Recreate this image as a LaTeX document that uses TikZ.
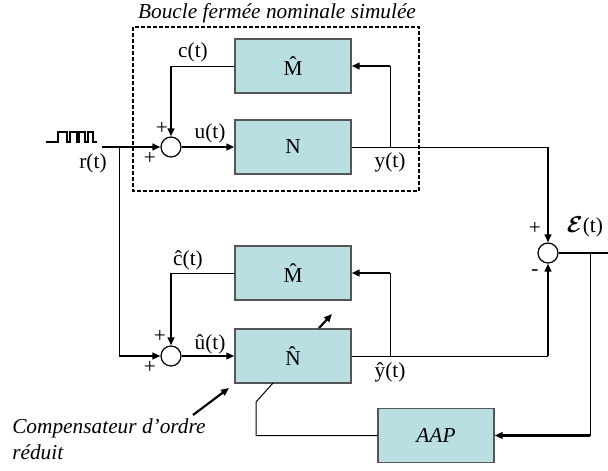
\documentclass[tikz,border=0pt]{standalone}
\usepackage{amsmath}
\usepackage{fontspec}
\setmainfont{Liberation Serif}
\usetikzlibrary{arrows.meta}
\definecolor{boxfill}{HTML}{B9DFE2}
\definecolor{boxline}{HTML}{555555}
\begin{document}
\begin{tikzpicture}[x=0.75pt,y=-0.75pt,
  blk/.style={draw=boxline,fill=boxfill,line width=1pt,minimum width=87pt,minimum height=40.5pt,inner sep=0pt,font=\fontsize{16}{18}\selectfont},
  sumnode/.style={circle,draw,line width=0.9pt,minimum size=15pt,inner sep=0pt},
  wire/.style={line width=0.75pt},
  bold/.style={line width=1.6pt},
  arr/.style={bold,-{Triangle[length=6pt,width=5pt]}},
  lbl/.style={font=\fontsize{16}{18}\selectfont,inner sep=0pt},
  itl/.style={font=\fontsize{16}{20}\selectfont\itshape,inner sep=0pt},
]
\useasboundingbox (0,0) rectangle (608,471);

% dashed frame and title
\draw[line width=1.2pt,dash pattern=on 3pt off 1.5pt] (133,27) rectangle (419,191);
\node[itl] (title) at (277,13) {Boucle fermée nominale simulée};

% blocks
\node[blk] (M1) at (293,66) {\^{M}};
\node[blk] (N1) at (293,147) {N};
\node[blk] (M2) at (293,273) {\^{M}};
\node[blk] (N2) at (293,356) {\^{N}};
\node[blk,font=\fontsize{16}{18}\selectfont\itshape] (AAP) at (436,435.5) {AAP};

% summing junctions
\node[sumnode] (s1) at (171,147) {};
\node[sumnode] (s2) at (171,356) {};
\node[sumnode] (s3) at (548,253) {};

% square wave input
\draw[line width=1.8pt] (46,142) -- (58,142) -- (58,132) -- (67,132) -- (67,142) -- (70,142) -- (70,132) -- (77,132) -- (77,142) -- (79,142) -- (79,132) -- (85,132) -- (85,142) -- (88,142) -- (88,132) -- (93,132) -- (93,142) -- (97,142);

% coordinates
\coordinate (rin) at (102,147);
\coordinate (rb) at (119,147);
\coordinate (yb1) at (390,147);
\coordinate (yc1) at (548,147);
\coordinate (yb2) at (390,356);
\coordinate (yc2) at (548,356);
\coordinate (eo) at (608,253);
\coordinate (eb) at (590,253);
\coordinate (sw1) at (256,402);
\coordinate (sw2) at (273,383);
\coordinate (da1) at (319,328);
\coordinate (da2) at (332,314);
\coordinate (ca1) at (193,415);
\coordinate (ca2) at (229,388);

% upper loop
\draw[arr] (rin) -- (s1.west);
\draw[wire] (M1.west) -- (M1.west -| s1);
\draw[arr] (M1.west -| s1) -- (s1.north);
\draw[arr] (s1.east) -- (N1.west);
\draw[wire] (N1.east) -- (yc1);
\draw[wire] (yb1) -- (yb1 |- M1.east);
\draw[arr] (yb1 |- M1.east) -- (M1.east);
\draw[arr] (yc1) -- (s3.north);

% lower loop
\draw[wire] (rb) -- (rb |- s2);
\draw[arr] (rb |- s2) -- (s2.west);
\draw[wire] (M2.west) -- (M2.west -| s2);
\draw[arr] (M2.west -| s2) -- (s2.north);
\draw[arr] (s2.east) -- (N2.west);
\draw[wire] (N2.east) -- (yc2);
\draw[wire] (yb2) -- (yb2 |- M2.east);
\draw[arr] (yb2 |- M2.east) -- (M2.east);
\draw[arr] (yc2) -- (s3.south);

% error and adaptation
\draw[bold] (s3.east) -- (eo);
\draw[wire] (eb) -- (eb |- AAP.east);
\draw[arr] (eb |- AAP.east) -- (AAP.east);
\draw[wire] (AAP.west) -- (AAP.west -| sw1) -- (sw1) -- (sw2);
\draw[arr] (da1) -- (da2);
\draw[arr] (ca1) -- (ca2);

% labels
\node[lbl] (lr) at (93,163) {r(t)};
\node[lbl] (lc) at (193,52) {c(t)};
\node[lbl] (lu) at (210,133) {u(t)};
\node[lbl] (ly) at (390,162) {y(t)};
\node[lbl] (lch) at (188,260) {ĉ(t)};
\node[lbl] (luh) at (210,344) {\^{u}(t)};
\node[lbl] (lyh) at (390,372) {\^{y}(t)};
\node[lbl] (le) at (585,227) {$\boldsymbol{\mathcal{E}}$(t)};
\node[lbl] (p1) at (162,128) {+};
\node[lbl] (p2) at (150,158) {+};
\node[lbl] (p3) at (160,336) {+};
\node[lbl] (p4) at (150,367) {+};
\node[lbl] (p5) at (535,228) {+};
\node[lbl] (m5) at (535,273) {-};
\node[itl,anchor=north west,align=left] (comp) at (12,418) {Compensateur d'ordre\\réduit};
\end{tikzpicture}
\end{document}
